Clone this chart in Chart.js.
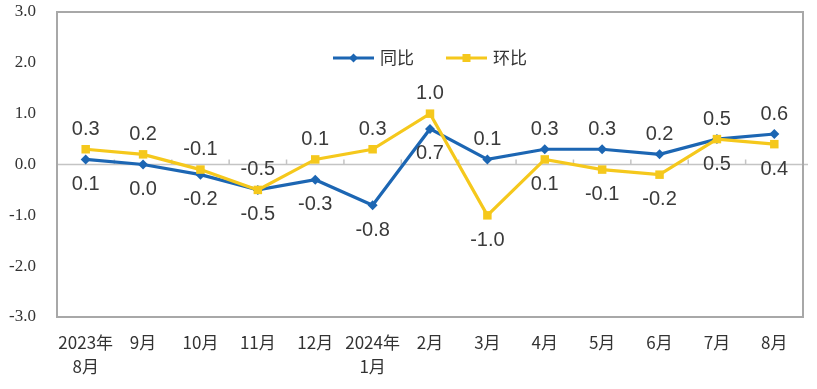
<!DOCTYPE html>
<html>
<head>
<meta charset="utf-8">
<script src="https://cdn.jsdelivr.net/npm/chart.js@4"></script>
<style>
  html, body { margin: 0; padding: 0; background: #fff; }
  #wrap { width: 817px; height: 389px; }
</style>
</head>
<body>
<div id="wrap"><canvas id="cpi"></canvas></div>
<script>
let mois = [["2023年", "8月"], "9月", "10月", "11月", "12月", ["2024年", "1月"], "2月", "3月", "4月", "5月", "6月", "7月", "8月"];
let tongbi = [0.1, 0.0, -0.2, -0.5, -0.3, -0.8, 0.7, 0.1, 0.3, 0.3, 0.2, 0.5, 0.6];
let huanbi = [0.3, 0.2, -0.1, -0.5, 0.1, 0.3, 1.0, -1.0, 0.1, -0.1, -0.2, 0.5, 0.4];
let yTicks = [-3, -2, -1, 0, 1, 2, 3];

// where each value label sits: "h" above the point, "b" below
let tongbiCote = ["b", "b", "b", "b", "b", "b", "b", "h", "h", "h", "h", "h", "h"];
let huanbiCote = ["h", "h", "h", "h", "h", "h", "h", "b", "b", "b", "b", "b", "b"];

let bleu = "#1c66b3";
let jaune = "#f5c81c";

let cadre = {
  id: "cadre",
  beforeDatasetsDraw(chart) {
    let ctx = chart.ctx;
    let a = chart.chartArea;
    let x = chart.scales.x;
    let y = chart.scales.y;
    ctx.save();
    let y0 = y.getPixelForValue(0);
    let demi = (x.getPixelForValue(1) - x.getPixelForValue(0)) / 2;
    ctx.strokeStyle = "#c4c4c4";
    ctx.lineWidth = 1.5;
    ctx.beginPath();
    ctx.moveTo(a.left, y0);
    ctx.lineTo(a.right + 5, y0);
    for (let i = 1; i < mois.length; i++) {
      let px = x.getPixelForValue(i) - demi;
      ctx.moveTo(px, y0);
      ctx.lineTo(px, y0 - 5);
    }
    ctx.stroke();
    ctx.strokeStyle = "#a8a8a8";
    ctx.lineWidth = 2;
    ctx.strokeRect(a.left, a.top, a.width, a.height);
    ctx.restore();
  },
  afterDatasetsDraw(chart) {
    let ctx = chart.ctx;
    let a = chart.chartArea;
    let cotes = [tongbiCote, huanbiCote];
    ctx.save();
    ctx.font = "20px 'Liberation Sans', Arial, sans-serif";
    ctx.fillStyle = "#3a3a3a";
    ctx.textAlign = "center";
    ctx.textBaseline = "middle";
    chart.data.datasets.forEach((ds, i) => {
      let meta = chart.getDatasetMeta(i);
      meta.data.forEach((pt, j) => {
        let dy = cotes[i][j] == "h" ? -20 : 25;
        ctx.fillText(ds.data[j].toFixed(1), pt.x, pt.y + dy);
      });
    });

    // legend: line + marker, then text
    ctx.font = "17px 'Noto Sans CJK SC', sans-serif";
    ctx.textAlign = "left";
    let trait = 41, ecart = 6, entre = 32;
    let items = chart.data.datasets;
    let total = 0;
    items.forEach((ds, i) => {
      total += trait + ecart + ctx.measureText(ds.label).width + (i > 0 ? entre : 0);
    });
    let cx = (a.left + a.right) / 2 - total / 2;
    let cy = 58;
    items.forEach((ds) => {
      ctx.strokeStyle = ds.borderColor;
      ctx.fillStyle = ds.borderColor;
      ctx.lineWidth = 3;
      ctx.beginPath();
      ctx.moveTo(cx, cy);
      ctx.lineTo(cx + trait, cy);
      ctx.stroke();
      let m = cx + trait / 2;
      if (ds.pointStyle == "rectRot") {
        ctx.beginPath();
        ctx.moveTo(m, cy - 4.5);
        ctx.lineTo(m + 4.5, cy);
        ctx.lineTo(m, cy + 4.5);
        ctx.lineTo(m - 4.5, cy);
        ctx.closePath();
        ctx.fill();
      } else {
        ctx.fillRect(m - 4, cy - 4, 8, 8);
      }
      ctx.fillStyle = "#333";
      ctx.fillText(ds.label, cx + trait + ecart, cy);
      cx += trait + ecart + ctx.measureText(ds.label).width + entre;
    });
    ctx.restore();
  }
};

Chart.defaults.font.family = "'Noto Sans CJK SC', sans-serif";
Chart.defaults.color = "#3a3a3a";

let graph = document.getElementById("cpi");
let myChart = new Chart(graph, {
  type: "line",
  data: {
    labels: mois,
    datasets: [
      {
        label: "同比",
        data: tongbi,
        borderColor: bleu,
        backgroundColor: bleu,
        borderWidth: 3.2,
        pointStyle: "rectRot",
        pointRadius: 5,
        pointBorderWidth: 0,
        tension: 0,
        order: 1,
      },
      {
        label: "环比",
        data: huanbi,
        borderColor: jaune,
        backgroundColor: jaune,
        borderWidth: 3.2,
        pointStyle: "rect",
        pointRadius: 6,
        pointBorderWidth: 0,
        tension: 0,
        order: 0,
      },
    ],
  },
  options: {
    responsive: true,
    maintainAspectRatio: false,
    animation: false,
    layout: { padding: { top: 12, right: 14, left: 0, bottom: 0 } },
    plugins: {
      tooltip: { enabled: false },
      legend: { display: false },
    },
    scales: {
      x: {
        offset: true,
        grid: { display: false, drawTicks: false },
        border: { display: false },
        ticks: {
          padding: 13,
          maxRotation: 0,
          autoSkip: false,
          font: { size: 17, lineHeight: 1.45 },
          color: "#333",
        },
        afterFit(scale) { scale.height = 72; },
      },
      y: {
        min: -3,
        max: 3,
        grid: { display: false, drawTicks: true, tickLength: 21 },
        border: { display: false },
        afterBuildTicks(scale) { scale.ticks = yTicks.map((v) => ({ value: v })); },
        ticks: {
          padding: 0,
          font: { family: "'Liberation Serif', 'DejaVu Serif', serif", size: 17 },
          color: "#333",
          callback: (v) => Number(v).toFixed(1),
        },
        afterFit(scale) { scale.width = 57; },
      },
    },
  },
  plugins: [cadre],
});
</script>
</body>
</html>
